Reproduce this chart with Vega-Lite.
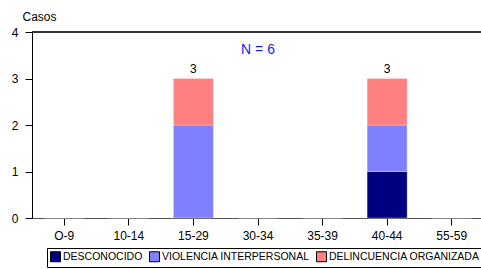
{
  "$schema": "https://vega.github.io/schema/vega-lite/v6.json",
  "autosize": "none",
  "width": 452,
  "height": 186,
  "padding": {"left": 32, "top": 32, "right": 0, "bottom": 51},
  "background": "white",
  "config": {
    "font": "Liberation Sans",
    "view": {"stroke": null},
    "axis": {"labelFont": "Liberation Sans", "titleFont": "Liberation Sans", "labelColor": "black", "titleColor": "black", "domainColor": "black", "tickColor": "black", "grid": false, "labelFontSize": 12, "titleFontSize": 12, "titleFontWeight": "normal"}
  },
  "data": {
    "values": [
      {"grupo": "O-9", "causa": "DESCONOCIDO", "casos": 0, "orden": 1},
      {"grupo": "10-14", "causa": "DESCONOCIDO", "casos": 0, "orden": 1},
      {"grupo": "15-29", "causa": "VIOLENCIA INTERPERSONAL", "casos": 2, "orden": 2},
      {"grupo": "15-29", "causa": "DELINCUENCIA ORGANIZADA", "casos": 1, "orden": 3},
      {"grupo": "30-34", "causa": "DESCONOCIDO", "casos": 0, "orden": 1},
      {"grupo": "35-39", "causa": "DESCONOCIDO", "casos": 0, "orden": 1},
      {"grupo": "40-44", "causa": "DESCONOCIDO", "casos": 1, "orden": 1},
      {"grupo": "40-44", "causa": "VIOLENCIA INTERPERSONAL", "casos": 1, "orden": 2},
      {"grupo": "40-44", "causa": "DELINCUENCIA ORGANIZADA", "casos": 1, "orden": 3},
      {"grupo": "55-59", "causa": "DESCONOCIDO", "casos": 0, "orden": 1}
    ]
  },
  "layer": [
    {
      "mark": {"type": "bar", "stroke": "white", "strokeWidth": 0.5, "strokeOpacity": 0.6},
      "encoding": {
        "x": {
          "field": "grupo", "type": "nominal", "sort": null,
          "scale": {"paddingInner": 0.38, "paddingOuter": 0.19},
          "axis": {"title": null, "labelAngle": 0, "tickSize": 7, "labelPadding": 5, "domainColor": "#555"}
        },
        "y": {
          "field": "casos", "type": "quantitative", "aggregate": "sum",
          "scale": {"domain": [0, 4]},
          "axis": {"title": "Casos", "titleAngle": 0, "titleAlign": "left", "titleBaseline": "alphabetic", "titleX": -10, "titleY": -12, "values": [0, 1, 2, 3, 4], "tickSize": 7, "labelPadding": 7, "format": "d"}
        },
        "color": {
          "field": "causa", "type": "nominal",
          "scale": {"domain": ["DESCONOCIDO", "VIOLENCIA INTERPERSONAL", "DELINCUENCIA ORGANIZADA"], "range": ["#000080", "#8080FF", "#FF8080"]},
          "legend": {
            "title": null, "orient": "none", "direction": "horizontal", "legendX": 15, "legendY": 216,
            "symbolType": "square", "symbolSize": 100, "symbolStrokeColor": "black", "symbolStrokeWidth": 1,
            "labelFontSize": 10.5, "labelColor": "black", "labelFont": "Liberation Sans", "labelLimit": 0,
            "strokeColor": "black", "padding": 3, "columnPadding": 4, "labelOffset": 2, "symbolOpacity": 1
          }
        },
        "order": {"field": "orden", "type": "quantitative"}
      }
    },
    {
      "mark": {"type": "rule", "color": "#333", "strokeWidth": 1},
      "encoding": {"y": {"datum": 4}}
    },
    {
      "transform": [
        {"aggregate": [{"op": "sum", "field": "casos", "as": "total"}], "groupby": ["grupo"]},
        {"filter": "datum.total > 0"}
      ],
      "mark": {"type": "text", "dy": -10, "fontSize": 12, "color": "black"},
      "encoding": {
        "x": {"field": "grupo", "type": "nominal", "sort": null},
        "y": {"field": "total", "type": "quantitative"},
        "text": {"field": "total", "type": "quantitative"}
      }
    },
    {
      "data": {"values": [{"grupo": "30-34", "y": 3.61, "label": "N = 6"}]},
      "mark": {"type": "text", "fontSize": 14, "color": "#2222EE", "baseline": "middle"},
      "encoding": {
        "x": {"field": "grupo", "type": "nominal", "sort": null},
        "y": {"field": "y", "type": "quantitative"},
        "text": {"field": "label"}
      }
    }
  ]
}
